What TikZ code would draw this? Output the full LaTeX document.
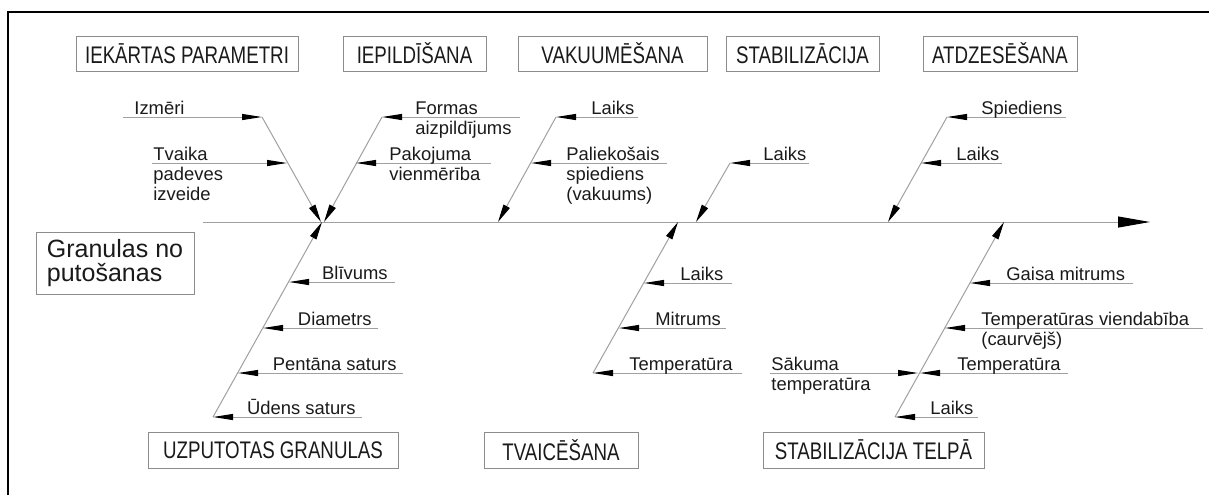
\documentclass[tikz,border=0pt]{standalone}
\usepackage{fontspec}
\setmainfont{Liberation Sans}
\newfontfamily\narrowsans[FakeStretch=0.78]{Liberation Sans}
\usepackage{tikz}
\usetikzlibrary{arrows.meta, positioning}
\definecolor{fishline}{HTML}{A0A0A0}
\definecolor{fishbox}{HTML}{8C8C8C}
\definecolor{fishtext}{HTML}{1A1A1A}

\begin{document}
\begin{tikzpicture}[
  x=0.5pt, y=-0.5pt,
  catbox/.style={draw=fishbox, line width=0.5pt, minimum height=17.5pt, inner sep=0pt, font=\narrowsans\fontsize{12}{13}\selectfont, text=fishtext},
  headbox/.style={draw=fishbox, line width=0.5pt, minimum width=79pt, minimum height=31pt, inner sep=0pt, align=left, font=\fontsize{12.5}{12}\selectfont, text=fishtext},
  lbl/.style={inner sep=0pt, align=left, font=\fontsize{9.2}{10}\selectfont, text=fishtext},
  spine/.style={draw=fishline, line width=0.5pt, -{Triangle[length=16pt, width=5.5pt, color=black]}},
  bone/.style={draw=fishline, line width=0.5pt, -{Triangle[length=9pt, width=3.5pt, color=black]}},
  rib/.style={draw=fishline, line width=0.5pt, -{Triangle[length=10pt, width=3pt, color=black]}}
]
\useasboundingbox (0,0) rectangle (1209,495);
\draw[line width=1pt] (8,495) -- (8,12) -- (1209,12);

\node[catbox, minimum width=111pt] (cat1) at (187,53.5) {IEKĀRTAS PARAMETRI};
\node[catbox, minimum width=71.5pt] (cat2) at (414.5,53.5) {IEPILDĪŠANA};
\node[catbox, minimum width=94.5pt] (cat3) at (612.5,53.5) {VAKUUMĒŠANA};
\node[catbox, minimum width=76.5pt] (cat4) at (802.5,53.5) {STABILIZĀCIJA};
\node[catbox, minimum width=77pt] (cat5) at (1000,53.5) {ATDZESĒŠANA};
\node[catbox, minimum width=125pt, minimum height=18pt] (cat6) at (273,450) {UZPUTOTAS GRANULAS};
\node[catbox, minimum width=77pt, minimum height=18pt] (cat7) at (561,450) {TVAICĒŠANA};
\node[catbox, minimum width=110.5pt, minimum height=18pt] (cat8) at (873.5,450) {STABILIZĀCIJA TELPĀ};
\node[headbox] (head) at (115,263) {Granulas no\\putošanas};

\coordinate (sp0) at (203,222);
\coordinate (sp1) at (1150,222);
\draw[spine] (sp0) -- (sp1);

\coordinate (b1s) at (262,117);
\coordinate (b1e) at (321,222);
\coordinate (b2s) at (382,117);
\coordinate (b2e) at (324,222);
\coordinate (b3s) at (213,417);
\coordinate (b3e) at (322,222);
\coordinate (b4s) at (556,117);
\coordinate (b4e) at (498,222);
\coordinate (b5s) at (593,373);
\coordinate (b5e) at (678,222);
\coordinate (b6s) at (730,163);
\coordinate (b6e) at (696,222);
\coordinate (b7s) at (947,117);
\coordinate (b7e) at (888,222);
\coordinate (b8s) at (895,417);
\coordinate (b8e) at (1004,222);
\foreach \b in {1,...,8} {
  \draw[bone] (b\b s) -- (b\b e);
}

\coordinate (r11) at (123,117);
\coordinate (j11) at (262,117);
\coordinate (r12) at (152,163);
\coordinate (j12) at (287,163);
\coordinate (r21) at (520,117);
\coordinate (j21) at (382,117);
\coordinate (r22) at (491,163);
\coordinate (j22) at (356,163);
\coordinate (r31) at (395,282);
\coordinate (j31) at (289,282);
\coordinate (r32) at (378,328);
\coordinate (j32) at (263,328);
\coordinate (r33) at (403,373);
\coordinate (j33) at (238,373);
\coordinate (r34) at (362,417);
\coordinate (j34) at (213,417);
\coordinate (r41) at (638,117);
\coordinate (j41) at (556,117);
\coordinate (r42) at (667,163);
\coordinate (j42) at (531,163);
\coordinate (r51) at (732,283);
\coordinate (j51) at (644,283);
\coordinate (r52) at (726,328);
\coordinate (j52) at (619,328);
\coordinate (r53) at (742,373);
\coordinate (j53) at (593,373);
\coordinate (r61) at (809,163);
\coordinate (j61) at (730,163);
\coordinate (r71) at (1066,117);
\coordinate (j71) at (947,117);
\coordinate (r72) at (1002,163);
\coordinate (j72) at (921,163);
\coordinate (r81) at (1133,283);
\coordinate (j81) at (970,283);
\coordinate (r82) at (1203,328);
\coordinate (j82) at (945,328);
\coordinate (r83) at (1068,373);
\coordinate (j83) at (920,373);
\coordinate (r84) at (770,373);
\coordinate (j84) at (918,373);
\coordinate (r85) at (978,417);
\coordinate (j85) at (895,417);
\foreach \r in {11,12,21,22,31,32,33,34,41,42,51,52,53,61,71,72,81,82,83,84,85} {
  \draw[rib] (r\r) -- (j\r);
}

\node[lbl, anchor=base west] (l11) at (134,114) {Izmēri};
\node[lbl, anchor=base west] (l12) at (153,200) {Tvaika\\padeves\\izveide};
\node[lbl, anchor=base west] (l21) at (415,134) {Formas\\aizpildījums};
\node[lbl, anchor=base west] (l22) at (389,180) {Pakojuma\\vienmērība};
\node[lbl, anchor=base east] (l31) at (388,279) {Blīvums};
\node[lbl, anchor=base east] (l32) at (372,325) {Diametrs};
\node[lbl, anchor=base east] (l33) at (397,370) {Pentāna saturs};
\node[lbl, anchor=base east] (l34) at (356,414) {Ūdens saturs};
\node[lbl, anchor=base west] (l41) at (591,114) {Laiks};
\node[lbl, anchor=base west] (l42) at (566,200) {Paliekošais\\spiediens\\(vakuums)};
\node[lbl, anchor=base west] (l51) at (680,280) {Laiks};
\node[lbl, anchor=base west] (l52) at (655,325) {Mitrums};
\node[lbl, anchor=base west] (l53) at (629,370) {Temperatūra};
\node[lbl, anchor=base west] (l61) at (763,160) {Laiks};
\node[lbl, anchor=base west] (l71) at (981,114) {Spiediens};
\node[lbl, anchor=base west] (l72) at (956,160) {Laiks};
\node[lbl, anchor=base west] (l81) at (1006,280) {Gaisa mitrums};
\node[lbl, anchor=base west] (l82) at (981,345) {Temperatūras viendabība\\(caurvējš)};
\node[lbl, anchor=base west] (l83) at (957,370) {Temperatūra};
\node[lbl, anchor=base west] (l84) at (771,390) {Sākuma\\temperatūra};
\node[lbl, anchor=base west] (l85) at (930,414) {Laiks};
\end{tikzpicture}
\end{document}
